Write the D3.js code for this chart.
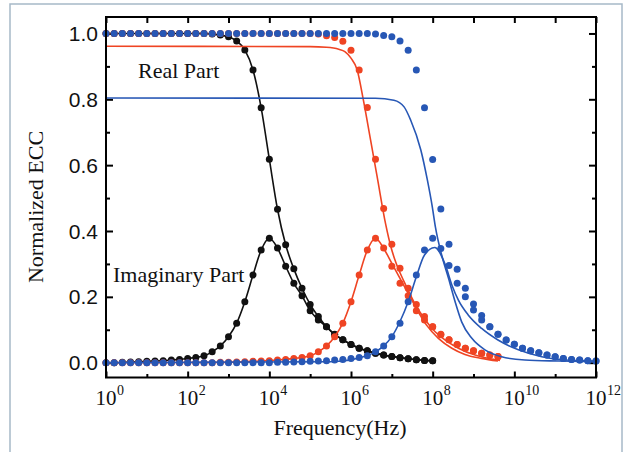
<!DOCTYPE html>
<meta charset="utf-8">
<style>
  body { margin: 0; background: #fff; }
  svg { display: block; font-family: "Liberation Serif", "Times New Roman", serif; }
  .tick line { stroke: #000; stroke-width: 2; }
  .tick text { font-size: 21px; fill: #111; }
  .fit { fill: none; stroke-width: 1.6; }
</style>
<body>
<svg width="629" height="452"></svg>
<script src="https://d3js.org/d3.v7.min.js"></script>
<script>
// frequency grid of the measured points, as powers of ten
var freqExp = [0,0.2,0.4,0.6,0.8,1,1.2,1.4,1.6,1.8,2,2.2,2.4,2.6,2.8,3,3.2,3.4,3.6,3.8,
               4,4.2,4.4,4.6,4.8,5,5.2,5.4,5.6,5.8,6,6.2,6.4,6.6,6.8,7,7.2,7.4,7.6,7.8,
               8,8.2,8.4,8.6,8.8,9,9.2,9.4,9.6,9.8,10,10.2,10.4,10.6,10.8,11,11.2,11.4,11.6,11.8,12];

// black: 10^0 .. 10^8
var blackReal = [1,1,1,1,1,1,1,1,1,1,1,1,1,0.998,0.995,0.99,0.977,0.95,0.889,0.774,
                 0.618,0.466,0.358,0.285,0.226,0.177,0.14,0.109,0.086,0.07,0.055,0.044,0.036,0.029,0.023,0.019,
                 0.015,0.012,0.009,0.007,0.006];
var blackImag = [0,0,0.001,0.002,0.003,0.004,0.005,0.006,0.008,0.01,0.013,0.016,0.021,0.033,0.051,0.079,
                 0.12,0.185,0.266,0.342,0.378,0.348,0.293,0.241,0.203,0.158,0.13,0.109,0.085,0.07,0.055,
                 0.044,0.036,0.029,0.023,0.019,0.015,0.012,0.009,0.007,0.006];

// red: 10^0 .. 10^9.6
var redReal = [1,1,1,1,1,1,1,1,1,1,1,1,1,1,1,1,1,1,1,1,1,1,1,1,1,1,
               0.998,0.993,0.988,0.976,0.949,0.889,0.775,0.618,0.468,0.36,0.287,0.226,0.177,0.14,0.109,
               0.086,0.07,0.055,0.044,0.036,0.029,0.023,0.019];
var redImag = [0,0,0,0,0,0,0,0,0,0,0,0,0,0,0.001,0.001,0.002,0.003,0.004,0.005,0.006,0.008,0.01,
               0.013,0.016,0.021,0.033,0.051,0.079,0.12,0.185,0.266,0.342,0.378,0.348,0.293,0.241,0.203,
               0.158,0.13,0.109,0.085,0.07,0.055,0.044,0.036,0.029,0.023,0.019];

// blue: 10^0 .. 10^12
var blueReal = [1,1,1,1,1,1,1,1,1,1,1,1,1,1,1,1,1,1,1,1,1,1,1,1,1,1,1,1,1,1,1,1,1,
                0.998,0.994,0.99,0.977,0.949,0.889,0.774,0.617,0.467,0.36,0.284,0.226,0.178,0.143,0.109,
                0.086,0.069,0.056,0.044,0.036,0.03,0.023,0.018,0.013,0.01,0.008,0.006,0.005];
var blueImag = [0,0,0,0,0,0,0,0,0,0,0,0,0,0,0,0,0,0,0,0,0,
                0.001,0.001,0.002,0.003,0.004,0.005,0.006,0.008,0.01,0.013,0.016,0.021,0.033,0.051,0.079,
                0.12,0.185,0.266,0.342,0.378,0.347,0.295,0.241,0.2,0.16,0.13,0.109,0.086,0.069,0.056,
                0.044,0.036,0.03,0.023,0.018,0.013,0.01,0.008,0.006,0.005];

// fitted curves
var redRealFitExp = [0,5,5.4,5.7,5.85,6,6.15,6.3,6.48,6.64,6.85,6.97,7.09,7.3,7.54,7.79,8.06,8.3,8.63,9.04,9.45,9.65];
var redRealFitVal = [0.961,0.96,0.958,0.952,0.945,0.925,0.89,0.8,0.676,0.565,0.42,0.355,0.307,0.246,0.185,0.135,0.094,0.069,0.044,0.023,0.011,0.007];
var redImagFitExp = [0,2.8,3.6,4.2,4.6,5,5.2,5.4,5.6,5.8,6,6.2,6.4,6.6,6.8,7,7.2,7.4,7.6,7.85,8.14,8.47,8.79,9.2,9.6];
var redImagFitVal = [0,0.001,0.004,0.008,0.013,0.021,0.033,0.051,0.079,0.12,0.185,0.266,0.342,0.378,0.347,0.302,0.256,0.211,0.165,0.114,0.074,0.044,0.025,0.013,0.005];
var blueRealFitExp = [0,6.6,7.05,7.3,7.46,7.71,7.87,7.99,8.07,8.22,8.39,8.55,8.71,8.96,9.28,9.69,10.26,11.08,12];
var blueRealFitVal = [0.804,0.803,0.797,0.777,0.737,0.646,0.555,0.474,0.41,0.327,0.256,0.185,0.124,0.074,0.039,0.018,0.008,0.005,0.003];
var blueImagFitExp = [0,5.5,6.3,6.6,6.8,7,7.2,7.4,7.6,7.8,8.05,8.31,8.47,8.63,8.87,9.2,9.6,10.1,10.67,11.24,12];
var blueImagFitVal = [0,0.003,0.018,0.033,0.051,0.079,0.125,0.185,0.261,0.327,0.35,0.297,0.236,0.19,0.145,0.104,0.069,0.039,0.018,0.008,0.005];

var decades = [0,1,2,3,4,5,6,7,8,9,10,11,12];
var labelDecades = [0,2,4,6,8,10,12];
var yMajor = [0,0.2,0.4,0.6,0.8,1.0];
var yMinor = [0.1,0.3,0.5,0.7,0.9];

var BLACK = "#111", RED = "#ef4423", BLUE = "#2757b5";

var svg = d3.select("svg");
var plotL = 106, plotR = 596, plotT = 17, plotB = 377.5;

var x = d3.scaleLog().domain([1, 1e12]).range([plotL, plotR]);
var y = d3.scaleLinear().domain([-0.045, 1.05]).range([plotB, plotT]);
function px(e) { return x(Math.pow(10, e)); }

// outer panel border
svg.append("rect")
  .attr("x", 10).attr("y", 4).attr("width", 612).attr("height", 470)
  .attr("fill", "none").attr("stroke", "#a7b9c8").attr("stroke-width", 1.5);

/* Axes */
function ticks(axis, vals, size) {
  return axis.tickValues(vals).tickSize(-size).tickFormat("");
}
var pow = function(d) { return Math.pow(10, d); };

svg.append("g").attr("transform", "translate(0," + plotB + ")")
  .call(ticks(d3.axisBottom(x), labelDecades.map(pow), 6));
svg.append("g").attr("transform", "translate(0," + plotB + ")")
  .call(ticks(d3.axisBottom(x), [1,3,5,7,9,11].map(pow), 3.5));
svg.append("g").attr("transform", "translate(0," + plotT + ")")
  .call(ticks(d3.axisTop(x), decades.map(pow), 6));
svg.append("g").attr("transform", "translate(" + plotL + ",0)")
  .call(d3.axisLeft(y).tickValues(yMajor).tickSize(-7).tickPadding(8).tickFormat(d3.format(".1f")));
svg.append("g").attr("transform", "translate(" + plotL + ",0)")
  .call(ticks(d3.axisLeft(y), yMinor, 4));
svg.append("g").attr("transform", "translate(" + plotR + ",0)")
  .call(ticks(d3.axisRight(y), yMajor, 7));
svg.append("g").attr("transform", "translate(" + plotR + ",0)")
  .call(ticks(d3.axisRight(y), yMinor, 4));
svg.selectAll(".domain").remove();
svg.selectAll(".tick text").attr("dy", "0.34em");

// x tick labels: 10 with superscript exponent
var xl = svg.append("g").attr("class", "xlabels");
labelDecades.forEach(function(d) {
  var base = xl.append("text")
    .attr("x", x(pow(d))).attr("y", 405)
    .attr("text-anchor", "middle")
    .style("font-size", "21px").attr("fill", "#111")
    .text("10");
  var w = base.node().getComputedTextLength();
  xl.append("text")
    .attr("x", x(pow(d)) + w / 2 + 0.5).attr("y", 395)
    .style("font-size", "14px").attr("fill", "#111")
    .text(d);
});

/* Data */
var plot = svg.append("g");

function fitLine(expArr, valArr, color) {
  var pts = expArr.map(function(e, i) { return [px(e), y(valArr[i])]; });
  plot.append("path")
    .attr("class", "fit")
    .attr("stroke", color)
    .attr("d", d3.line().curve(d3.curveMonotoneX)(pts));
}
function dataLine(vals, color) {
  var pts = vals.map(function(v, i) { return [px(freqExp[i]), y(v)]; });
  plot.append("path")
    .attr("class", "fit")
    .attr("stroke", color).attr("stroke-width", 1.5)
    .attr("d", d3.line().curve(d3.curveMonotoneX)(pts));
}
function dots(vals, color) {
  plot.append("g").selectAll("circle")
    .data(vals)
    .enter().append("circle")
      .attr("cx", function(d, i) { return px(freqExp[i]); })
      .attr("cy", function(d) { return y(d); })
      .attr("r", 3.5)
      .attr("fill", color);
}

// black: measured points joined by a line
dataLine(blackReal, BLACK);
dataLine(blackImag, BLACK);
dots(blackReal, BLACK);
dots(blackImag, BLACK);

// red
fitLine(redRealFitExp, redRealFitVal, RED);
fitLine(redImagFitExp, redImagFitVal, RED);
dots(redReal, RED);
dots(redImag, RED);

// blue
fitLine(blueRealFitExp, blueRealFitVal, BLUE);
fitLine(blueImagFitExp, blueImagFitVal, BLUE);
dots(blueReal, BLUE);
dots(blueImag, BLUE);

// frame
svg.append("rect")
  .attr("x", plotL).attr("y", plotT).attr("width", plotR - plotL).attr("height", plotB - plotT)
  .attr("fill", "none").attr("stroke", "#000").attr("stroke-width", 2);

/* Labels */
svg.append("text").attr("x", 138).attr("y", 78)
  .style("font-size", "22px").attr("fill", "#111").text("Real Part");
svg.append("text").attr("x", 113).attr("y", 282)
  .style("font-size", "22px").attr("fill", "#111").text("Imaginary Part");
svg.append("text").attr("x", 340).attr("y", 435)
  .attr("text-anchor", "middle")
  .style("font-size", "22px").attr("fill", "#111").text("Frequency(Hz)");
svg.append("text")
  .attr("transform", "translate(43,207) rotate(-90)")
  .attr("text-anchor", "middle")
  .style("font-size", "22px").attr("fill", "#111").text("Normalized ECC");
</script>
</body>
